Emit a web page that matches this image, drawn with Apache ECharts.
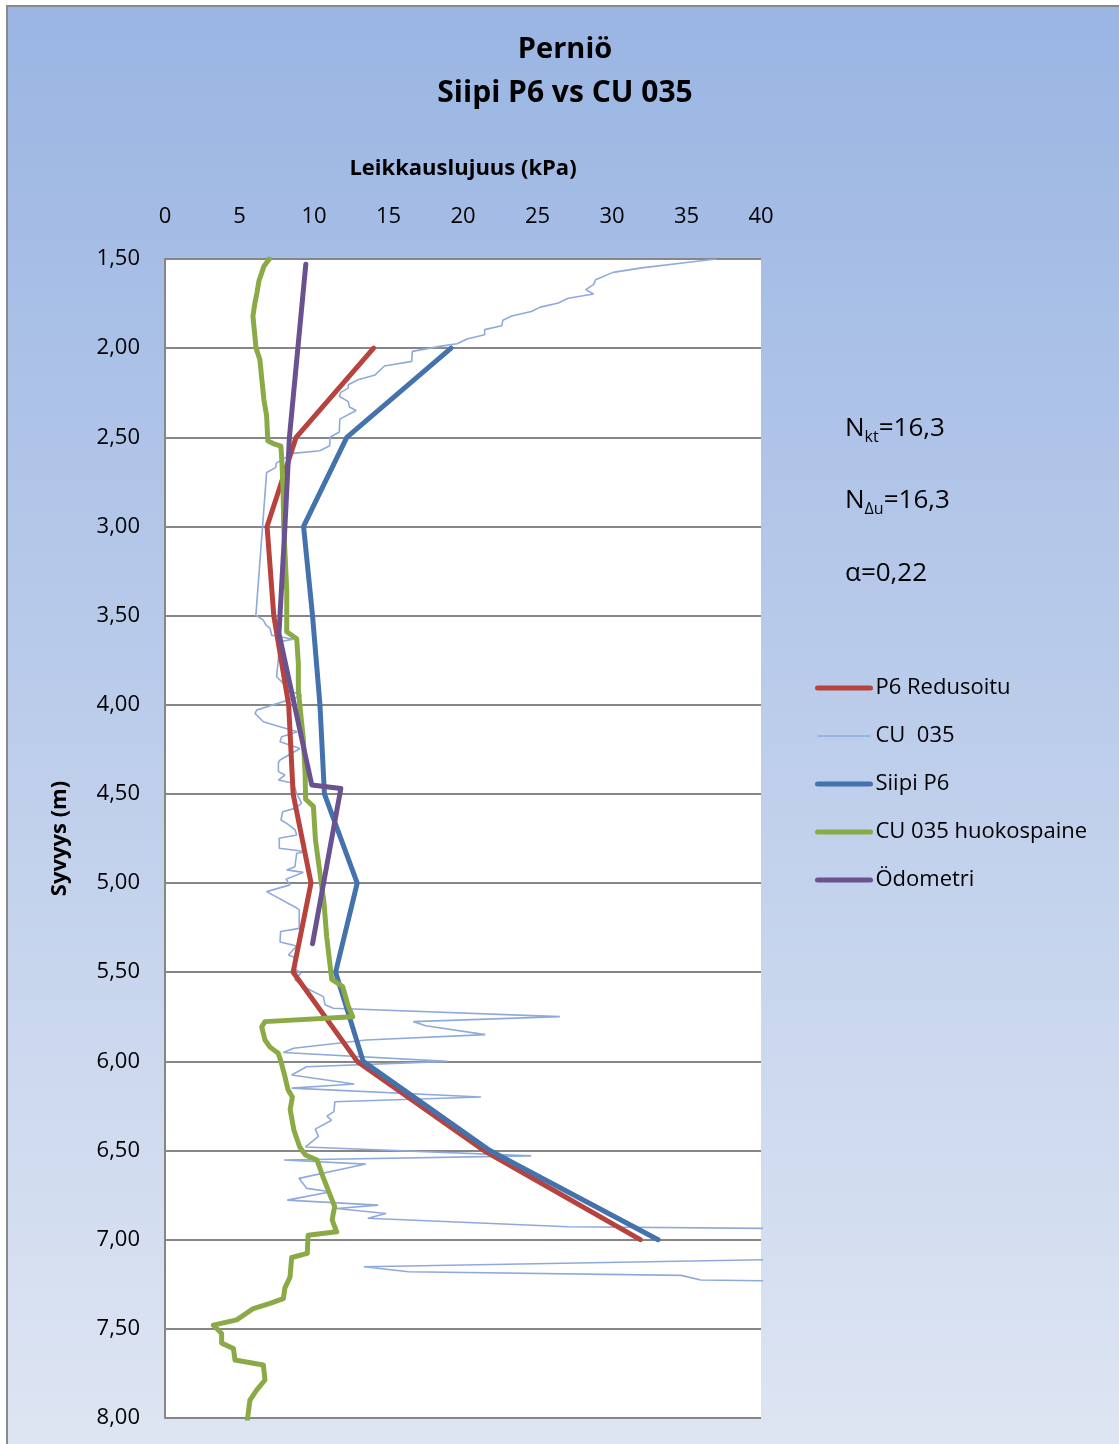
<!DOCTYPE html>
<html>
<head>
<meta charset="utf-8">
<script src="https://cdn.jsdelivr.net/npm/echarts@6/dist/echarts.min.js"></script>
<style>
html,body{margin:0;padding:0;background:#fff;}
#c{width:1119px;height:1444px;}
</style>
</head>
<body>
<div id="c"></div>
<script>
// ---------- DATA ----------
const xTicks = [0, 5, 10, 15, 20, 25, 30, 35, 40];
const yTicks = [1.5, 2.0, 2.5, 3.0, 3.5, 4.0, 4.5, 5.0, 5.5, 6.0, 6.5, 7.0, 7.5, 8.0];

// P6 Redusoitu and Siipi P6 (same depths)
const p6Depth = [2.0, 2.5, 3.0, 3.5, 4.0, 4.5, 5.0, 5.5, 6.0, 6.5, 7.0];
const p6Red   = [14.0, 8.8, 6.85, 7.3, 8.3, 8.6, 9.8, 8.6, 12.9, 21.4, 31.9];
const siipiP6 = [19.2, 12.2, 9.3, 9.9, 10.4, 10.7, 12.9, 11.45, 13.3, 21.8, 33.1];

// Ödometri
const odDepth = [1.53, 2.5, 3.0, 3.6, 4.45, 4.47, 5.34];
const odValue = [9.45, 8.35, 8.05, 7.65, 9.85, 11.8, 9.9];

// CU 035 huokospaine
const huoDepth = [1.5, 1.54, 1.625, 1.69, 1.75, 1.82, 1.93, 2.0, 2.065, 2.16, 2.29, 2.38, 2.52, 2.535, 2.55, 2.66, 2.79, 3.0,
  3.36, 3.59, 3.61, 3.63, 3.77, 3.92, 4.01, 4.19, 4.38, 4.53, 4.57, 4.76, 5.11, 5.30, 5.54, 5.58, 5.69, 5.75,
  5.777, 5.806, 5.88, 5.92, 5.955, 6.0, 6.086, 6.16, 6.2, 6.27, 6.385, 6.48, 6.525, 6.553, 6.647, 6.76, 6.815,
  6.85, 6.89, 6.956, 6.975, 7.077, 7.1, 7.21, 7.27, 7.33, 7.357, 7.386, 7.45, 7.479, 7.526, 7.58, 7.61, 7.675,
  7.703, 7.787, 7.844, 7.9, 8.01];
const huoValue = [7.0, 6.64, 6.30, 6.17, 6.03, 5.90, 6.03, 6.11, 6.37, 6.48, 6.64, 6.82, 6.9, 7.26, 7.78, 7.86, 7.92, 7.97,
  8.17, 8.17, 8.5, 8.84, 8.95, 8.95, 9.06, 9.28, 9.4, 9.44, 9.96, 10.1, 10.67, 10.85, 11.19, 11.92, 12.3, 12.6,
  6.71, 6.49, 6.71, 7.05, 7.6, 7.78, 8.05, 8.26, 8.55, 8.4, 8.65, 9.04, 9.43, 10.2, 10.6, 11.13, 11.39,
  11.3, 11.22, 11.52, 9.6, 9.55, 8.5, 8.39, 8.05, 7.94, 7.05, 5.93, 4.81, 3.24, 3.8, 3.8, 4.59, 4.7,
  6.6, 6.71, 6.15, 5.7, 5.53];

// CU 035
const cuDepth = [1.5, 1.52, 1.55, 1.575, 1.616, 1.644, 1.672, 1.696, 1.72, 1.747, 1.77, 1.794, 1.82, 1.844, 1.874, 1.896,
  1.925, 1.949, 1.975, 1.99, 2.018, 2.074, 2.1, 2.15, 2.177, 2.205, 2.224, 2.248, 2.27, 2.3, 2.33, 2.35, 2.398, 2.47,
  2.5, 2.547, 2.575, 2.59, 2.645, 2.67, 2.697, 3.497, 3.525, 3.553, 3.571, 3.61, 3.633, 3.646, 3.843, 3.88, 3.908,
  3.95, 4.03, 4.048, 4.095, 4.123, 4.151, 4.179, 4.207, 4.245, 4.31, 4.325, 4.375, 4.394, 4.422, 4.44, 4.497, 4.553,
  4.581, 4.6, 4.646, 4.665, 4.7, 4.73, 4.749, 4.805, 4.824, 4.833, 4.908, 4.926, 4.94, 4.979, 5.01, 5.048, 5.14,
  5.15, 5.254, 5.272, 5.33, 5.353, 5.403, 5.422, 5.469, 5.506, 5.543, 5.59, 5.637, 5.683, 5.702, 5.749, 5.777,
  5.8, 5.85, 5.88, 5.926, 5.95, 6.0, 6.03, 6.076, 6.127, 6.15, 6.2, 6.226, 6.282, 6.307, 6.33, 6.38, 6.42, 6.48,
  6.53, 6.553, 6.576, 6.656, 6.712, 6.731, 6.778, 6.806, 6.825, 6.853, 6.88, 6.927, 6.94, 7.105, 7.152, 7.18,
  7.2, 7.226, 7.235];
const cuValue = [37.0, 35.0, 32.0, 30.07, 28.9, 28.76, 28.24, 28.76, 27.06, 26.4, 25.2, 24.58, 23.27, 22.67, 22.6, 21.45,
  21.45, 20.27, 19.6, 18.44, 16.6, 16.56, 14.73, 14.1, 12.96, 12.3, 12.3, 11.8, 11.7, 12.3, 12.38, 12.83, 11.73, 11.7,
  11.08, 11.05, 10.4, 8.57, 7.47, 7.42, 6.82, 6.1, 6.6, 6.78, 7.05, 7.16, 8.61, 7.72, 7.49, 7.94, 8.05,
  9.17, 6.15, 6.04, 6.6, 7.72, 8.88, 7.83, 7.72, 9.06, 7.72, 7.61, 7.61, 8.05, 7.61, 8.61, 8.84, 9.17,
  8.72, 7.9, 7.78, 8.17, 8.72, 8.84, 7.67, 7.67, 9.51, 8.84, 8.72, 8.17, 9.28, 8.12, 8.39, 6.82, 8.84,
  9.01, 9.01, 7.76, 7.72, 8.84, 8.28, 8.88, 8.57, 9.11, 8.72, 9.51, 10.63, 10.74, 11.3, 26.5, 16.67,
  17.5, 21.5, 13.5, 8.63, 7.94, 18.95, 9.5, 8.5, 12.7, 8.5, 21.2, 11.4, 11.34, 10.87, 11.18, 10.08, 10.3, 9.43,
  24.58, 7.99, 13.48, 8.99, 9.51, 11.13, 8.2, 14.3, 11.52, 14.84, 13.61, 27.06, 45, 45, 13.35, 16.35,
  34.64, 35.95, 45];

const seriesNames = ['P6 Redusoitu', 'CU  035', 'Siipi P6', 'CU 035 huokospaine', 'Ödometri'];

// ---------- CHART ----------
const FONT = '"Open Sans", Lato, sans-serif';
const pairs = (d, v) => d.map((y, i) => [v[i], y]);
const chart = echarts.init(document.getElementById('c'), null, {renderer: 'canvas'});

const thickLine = (color) => ({color: color, width: 5, cap: 'round', join: 'round'});
const hiddenSym = {color: 'rgba(0,0,0,0)', borderWidth: 0, opacity: 0};

chart.setOption({
  backgroundColor: '#ffffff',
  animation: false,
  textStyle: {fontFamily: FONT},
  graphic: [
    {type: 'rect', z: -100, silent: true,
     shape: {x: 7, y: 6, width: 1130, height: 1460},
     style: {
       fill: new echarts.graphic.LinearGradient(0, 0, 0, 1, [
         {offset: 0, color: '#9AB5E3'},
         {offset: 1, color: '#DFE6F3'}
       ]),
       stroke: '#8A8A8A', lineWidth: 2
     }},
    {type: 'text', x: 565, y: 50, z: 10, style: {text: 'Perniö', font: 'bold 29px ' + FONT, fill: '#000', align: 'center', verticalAlign: 'middle'}},
    {type: 'text', x: 565, y: 93, z: 10, style: {text: 'Siipi P6 vs CU 035', font: 'bold 30px ' + FONT, fill: '#000', align: 'center', verticalAlign: 'middle'}},
    {type: 'text', x: 845, y: 429, z: 10, style: {
      text: '{n|N}{s|kt}{n|=16,3}', verticalAlign: 'middle', align: 'left',
      rich: {n: {fontSize: 26, lineHeight: 32, fontFamily: FONT, fill: '#000'},
             s: {fontSize: 16, lineHeight: 14, verticalAlign: 'bottom', fontFamily: FONT, fill: '#000'}}}},
    {type: 'text', x: 845, y: 501, z: 10, style: {
      text: '{n|N}{s|Δu}{n|=16,3}', verticalAlign: 'middle', align: 'left',
      rich: {n: {fontSize: 26, lineHeight: 32, fontFamily: FONT, fill: '#000'},
             s: {fontSize: 16, lineHeight: 14, verticalAlign: 'bottom', fontFamily: FONT, fill: '#000'}}}},
    {type: 'text', x: 845, y: 574, z: 10, style: {text: 'α=0,22', font: '26px ' + FONT, fill: '#000', align: 'left', verticalAlign: 'middle'}}
  ],
  grid: {left: 165, top: 259, width: 596, height: 1159, show: true, backgroundColor: '#ffffff', borderWidth: 0,
         containLabel: false, outerBoundsMode: 'none'},
  legend: {
    orient: 'vertical', left: 815, top: 677, padding: 0,
    itemWidth: 53, itemHeight: 20, itemGap: 26,
    itemStyle: hiddenSym,
    textStyle: {fontSize: 22, color: '#000', fontFamily: FONT},
    data: [
      {name: seriesNames[0], lineStyle: {width: 5, cap: 'round'}, itemStyle: hiddenSym},
      {name: seriesNames[1], lineStyle: {width: 1.5}, itemStyle: hiddenSym},
      {name: seriesNames[2], lineStyle: {width: 5, cap: 'round'}, itemStyle: hiddenSym},
      {name: seriesNames[3], lineStyle: {width: 5, cap: 'round'}, itemStyle: hiddenSym},
      {name: seriesNames[4], lineStyle: {width: 5, cap: 'round'}, itemStyle: hiddenSym}
    ]
  },
  xAxis: {
    type: 'value', position: 'top', min: xTicks[0], max: xTicks[xTicks.length - 1], interval: 5,
    name: 'Leikkauslujuus (kPa)', nameLocation: 'middle', nameGap: 79,
    nameTextStyle: {fontSize: 22, fontWeight: 'bold', color: '#000', fontFamily: FONT},
    axisLine: {show: false}, axisTick: {show: false}, splitLine: {show: false},
    axisLabel: {fontSize: 22, color: '#000', margin: 31, fontFamily: FONT}
  },
  yAxis: {
    type: 'value', inverse: true, min: yTicks[0], max: yTicks[yTicks.length - 1], interval: 0.5,
    name: 'Syvyys (m)', nameLocation: 'middle', nameGap: 94,
    nameTextStyle: {fontSize: 22, fontWeight: 'bold', color: '#000', fontFamily: FONT},
    axisLine: {show: true, lineStyle: {color: '#868686', width: 2}},
    axisTick: {show: false},
    splitLine: {show: true, lineStyle: {color: '#868686', width: 2}},
    axisLabel: {fontSize: 22, color: '#000', margin: 25, fontFamily: FONT,
                formatter: (v) => v.toFixed(2).replace('.', ',')}
  },
  series: [
    {name: seriesNames[1], type: 'line', symbol: 'none', clip: true, z: 2,
     data: pairs(cuDepth, cuValue), lineStyle: {color: '#8FAADA', width: 1.6}, itemStyle: {color: '#8FAADA'}},
    {name: seriesNames[0], type: 'line', symbol: 'none', clip: true, z: 3,
     data: pairs(p6Depth, p6Red), lineStyle: thickLine('#B8433E'), itemStyle: {color: '#B8433E'}},
    {name: seriesNames[2], type: 'line', symbol: 'none', clip: true, z: 4,
     data: pairs(p6Depth, siipiP6), lineStyle: thickLine('#4372AC'), itemStyle: {color: '#4372AC'}},
    {name: seriesNames[3], type: 'line', symbol: 'none', clip: true, z: 5,
     data: pairs(huoDepth, huoValue), lineStyle: thickLine('#8AAA46'), itemStyle: {color: '#8AAA46'}},
    {name: seriesNames[4], type: 'line', symbol: 'none', clip: true, z: 6,
     data: pairs(odDepth, odValue), lineStyle: thickLine('#6A5290'), itemStyle: {color: '#6A5290'}}
  ]
});
</script>
</body>
</html>
